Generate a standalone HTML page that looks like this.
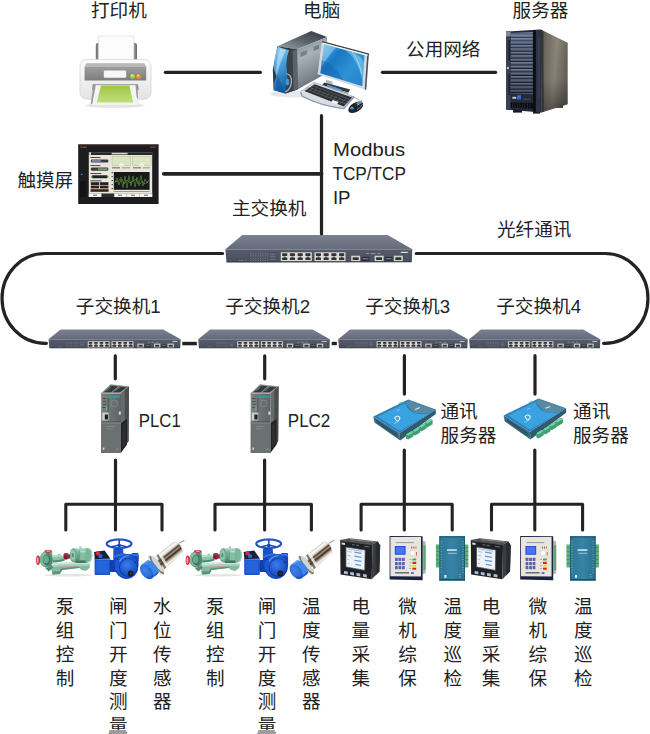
<!DOCTYPE html>
<html><head><meta charset="utf-8"><title>network</title>
<style>
html,body{margin:0;padding:0;background:#fff;font-family:"Liberation Sans",sans-serif;}
svg{display:block}
</style></head><body>
<svg width="650" height="734" viewBox="0 0 650 734">
<defs>
<linearGradient id="gPrBody" x1="0" y1="0" x2="0" y2="1"><stop offset="0" stop-color="#fdfdfd"/><stop offset="1" stop-color="#e3e3e3"/></linearGradient>
<linearGradient id="gPrPanel" x1="0" y1="0" x2="0" y2="1"><stop offset="0" stop-color="#a6a6a6"/><stop offset="1" stop-color="#7c7c7c"/></linearGradient>
<linearGradient id="gPrSup" x1="0" y1="0" x2="1" y2="0"><stop offset="0" stop-color="#6a6a6a"/><stop offset=".12" stop-color="#b8b8b8"/><stop offset=".88" stop-color="#b8b8b8"/><stop offset="1" stop-color="#6a6a6a"/></linearGradient>
<linearGradient id="gPrGreen" x1="0" y1="0" x2="0" y2="1"><stop offset="0" stop-color="#9cc544"/><stop offset="1" stop-color="#c2de7a"/></linearGradient>
<linearGradient id="gBlue" x1="0" y1="0" x2=".25" y2="1"><stop offset="0" stop-color="#9ad4f2"/><stop offset=".45" stop-color="#4aa2dc"/><stop offset="1" stop-color="#1462a8"/></linearGradient>
<linearGradient id="gScreen" x1="0" y1="0" x2="1" y2=".8"><stop offset="0" stop-color="#6fbde8"/><stop offset=".35" stop-color="#1878c2"/><stop offset=".7" stop-color="#2f92d4"/><stop offset="1" stop-color="#2486cc"/></linearGradient>
<linearGradient id="gTowerSide" x1="0" y1="0" x2=".3" y2="1"><stop offset="0" stop-color="#788088"/><stop offset=".4" stop-color="#a9b1b9"/><stop offset="1" stop-color="#687078"/></linearGradient>
<linearGradient id="gTowerTop" x1="0" y1="1" x2="1" y2="0"><stop offset="0" stop-color="#9aa2aa"/><stop offset=".5" stop-color="#5a626a"/><stop offset="1" stop-color="#30363e"/></linearGradient>
<linearGradient id="gSrvSide" x1="0" y1="0" x2="1" y2=".25"><stop offset="0" stop-color="#4c4842"/><stop offset=".2" stop-color="#6e685f"/><stop offset=".6" stop-color="#8d867b"/><stop offset="1" stop-color="#6a645b"/></linearGradient><linearGradient id="gSrvSideV" x1="0" y1="0" x2="0" y2="1"><stop offset="0" stop-color="#000" stop-opacity="0"/><stop offset=".6" stop-color="#000" stop-opacity=".05"/><stop offset="1" stop-color="#000" stop-opacity=".4"/></linearGradient><linearGradient id="gSrvStr" x1="0" y1="0" x2="0" y2="1"><stop offset="0" stop-color="#9db0d8" stop-opacity=".35"/><stop offset=".5" stop-color="#000" stop-opacity="0"/><stop offset="1" stop-color="#000" stop-opacity=".35"/></linearGradient>
<linearGradient id="gSrvFront" x1="0" y1="0" x2="0" y2="1"><stop offset="0" stop-color="#4e586c"/><stop offset="1" stop-color="#2a3040"/></linearGradient>
<pattern id="pSrv" width="4" height="3.45" patternUnits="userSpaceOnUse"><rect width="4" height="3.45" fill="#5e6b84"/><rect y="0" width="4" height=".8" fill="#7886a2"/><rect y="2.300" width="4" height="1.150" fill="#171c28"/></pattern>
<linearGradient id="gSwTop" x1="0" y1="0" x2="0" y2="1"><stop offset="0" stop-color="#7b8191"/><stop offset="1" stop-color="#646a7a"/></linearGradient>
<linearGradient id="gSwFront" x1="0" y1="0" x2="0" y2="1"><stop offset="0" stop-color="#555b6a"/><stop offset=".85" stop-color="#4a505e"/><stop offset="1" stop-color="#2e323c"/></linearGradient>
<linearGradient id="gPlcFront" x1="0" y1="0" x2="1" y2="0"><stop offset="0" stop-color="#7b8080"/><stop offset="1" stop-color="#5e6363"/></linearGradient>
<linearGradient id="gPlcSide" x1="0" y1="0" x2="0" y2="1"><stop offset="0" stop-color="#6a6e6e"/><stop offset=".45" stop-color="#3a3c3c"/><stop offset="1" stop-color="#1c1c1c"/></linearGradient>
<linearGradient id="gCsTop" x1="0" y1="0" x2="1" y2="1"><stop offset="0" stop-color="#3fa2de"/><stop offset="1" stop-color="#2f86c4"/></linearGradient>
<linearGradient id="gMetal" gradientUnits="userSpaceOnUse" x1="164" y1="549.5" x2="173.5" y2="561.5"><stop offset="0" stop-color="#b4aca0"/><stop offset=".1" stop-color="#ffffff"/><stop offset=".27" stop-color="#e4dcd0"/><stop offset=".4" stop-color="#4a3c2e"/><stop offset=".5" stop-color="#a49480"/><stop offset=".62" stop-color="#382c20"/><stop offset=".75" stop-color="#b4a894"/><stop offset=".9" stop-color="#f8f6f2"/><stop offset="1" stop-color="#c4bcb0"/></linearGradient>
<radialGradient id="gCap" cx=".45" cy=".35" r=".75"><stop offset="0" stop-color="#3f84ea"/><stop offset="1" stop-color="#1f5ccc"/></radialGradient>
<radialGradient id="gValve" cx=".4" cy=".35" r=".8"><stop offset="0" stop-color="#3a7cf0"/><stop offset="1" stop-color="#0f3fae"/></radialGradient>
<linearGradient id="gMotor" x1="0" y1="0" x2="0" y2="1"><stop offset="0" stop-color="#b4dcc8"/><stop offset=".3" stop-color="#7ab49c"/><stop offset=".7" stop-color="#5e9a82"/><stop offset="1" stop-color="#3f7862"/></linearGradient>
<linearGradient id="gBox" x1="0" y1="0" x2="1" y2="0"><stop offset="0" stop-color="#2d7696"/><stop offset=".5" stop-color="#3784a6"/><stop offset="1" stop-color="#2a6f8e"/></linearGradient>

<!-- switch : 186 x 28.5 -->
<g id="sw"><polygon points="16.9,0 162.3,0 186.9,14.3 0,14.3" fill="url(#gSwTop)"/><polygon points="0,14.3 186.9,14.3 186.4,27.4 1.1,27.7" fill="url(#gSwFront)"/><rect x="0" y="14" width="186.9" height=".9" fill="#8a90a0" opacity=".6"/><g fill="#8f96a6" opacity=".7"><rect x="25.0" y="18.6" width="1" height=".9"/><rect x="27.4" y="18.6" width="1" height=".9"/><rect x="29.8" y="18.6" width="1" height=".9"/><rect x="32.2" y="18.6" width="1" height=".9"/><rect x="34.6" y="18.6" width="1" height=".9"/><rect x="37.0" y="18.6" width="1" height=".9"/><rect x="39.4" y="18.6" width="1" height=".9"/><rect x="41.8" y="18.6" width="1" height=".9"/><rect x="25.0" y="20.6" width="1" height=".9"/><rect x="27.4" y="20.6" width="1" height=".9"/><rect x="29.8" y="20.6" width="1" height=".9"/><rect x="32.2" y="20.6" width="1" height=".9"/><rect x="34.6" y="20.6" width="1" height=".9"/><rect x="37.0" y="20.6" width="1" height=".9"/><rect x="39.4" y="20.6" width="1" height=".9"/><rect x="41.8" y="20.6" width="1" height=".9"/><rect x="25.0" y="23.2" width="1" height=".9"/><rect x="27.4" y="23.2" width="1" height=".9"/><rect x="29.8" y="23.2" width="1" height=".9"/><rect x="32.2" y="23.2" width="1" height=".9"/><rect x="34.6" y="23.2" width="1" height=".9"/><rect x="37.0" y="23.2" width="1" height=".9"/><rect x="39.4" y="23.2" width="1" height=".9"/><rect x="41.8" y="23.2" width="1" height=".9"/><rect x="25.0" y="25.2" width="1" height=".9"/><rect x="27.4" y="25.2" width="1" height=".9"/><rect x="29.8" y="25.2" width="1" height=".9"/><rect x="32.2" y="25.2" width="1" height=".9"/><rect x="34.6" y="25.2" width="1" height=".9"/><rect x="37.0" y="25.2" width="1" height=".9"/><rect x="39.4" y="25.2" width="1" height=".9"/><rect x="41.8" y="25.2" width="1" height=".9"/><rect x="13" y="25" width="5" height=".8"/><rect x="19.500" y="25" width="1.500" height=".8"/><rect x="45" y="19.500" width="5" height=".7"/><rect x="45" y="21.500" width="5" height=".7"/><rect x="45" y="24" width="5" height=".7"/></g><rect x="55.4" y="17.4" width="31" height="8.8" fill="#dedbd2"/><g fill="#30333b"><rect x="56.70" y="18.40" width="5.2" height="2.6" rx=".6"/><rect x="58.30" y="20.80" width="2" height=".7"/><rect x="64.45" y="18.40" width="5.2" height="2.6" rx=".6"/><rect x="66.05" y="20.80" width="2" height=".7"/><rect x="72.20" y="18.40" width="5.2" height="2.6" rx=".6"/><rect x="73.80" y="20.80" width="2" height=".7"/><rect x="79.95" y="18.40" width="5.2" height="2.6" rx=".6"/><rect x="81.55" y="20.80" width="2" height=".7"/><rect x="56.70" y="22.60" width="5.2" height="2.6" rx=".6"/><rect x="58.30" y="22.10" width="2" height=".7"/><rect x="64.45" y="22.60" width="5.2" height="2.6" rx=".6"/><rect x="66.05" y="22.10" width="2" height=".7"/><rect x="72.20" y="22.60" width="5.2" height="2.6" rx=".6"/><rect x="73.80" y="22.10" width="2" height=".7"/><rect x="79.95" y="22.60" width="5.2" height="2.6" rx=".6"/><rect x="81.55" y="22.10" width="2" height=".7"/></g><rect x="89.1" y="17.4" width="31" height="8.8" fill="#dedbd2"/><g fill="#30333b"><rect x="90.40" y="18.40" width="5.2" height="2.6" rx=".6"/><rect x="92.00" y="20.80" width="2" height=".7"/><rect x="98.15" y="18.40" width="5.2" height="2.6" rx=".6"/><rect x="99.75" y="20.80" width="2" height=".7"/><rect x="105.90" y="18.40" width="5.2" height="2.6" rx=".6"/><rect x="107.50" y="20.80" width="2" height=".7"/><rect x="113.65" y="18.40" width="5.2" height="2.6" rx=".6"/><rect x="115.25" y="20.80" width="2" height=".7"/><rect x="90.40" y="22.60" width="5.2" height="2.6" rx=".6"/><rect x="92.00" y="22.10" width="2" height=".7"/><rect x="98.15" y="22.60" width="5.2" height="2.6" rx=".6"/><rect x="99.75" y="22.10" width="2" height=".7"/><rect x="105.90" y="22.60" width="5.2" height="2.6" rx=".6"/><rect x="107.50" y="22.10" width="2" height=".7"/><rect x="113.65" y="22.60" width="5.2" height="2.6" rx=".6"/><rect x="115.25" y="22.10" width="2" height=".7"/></g><rect x="125.8" y="20.8" width="9" height="5.4" fill="#d6d3ca"/><rect x="127.3" y="22.4" width="6" height="2.8" rx=".5" fill="#30333b"/><rect x="149.2" y="20.8" width="9" height="5.4" fill="#d6d3ca"/><rect x="150.7" y="22.4" width="6" height="2.8" rx=".5" fill="#30333b"/><rect x="168.4" y="20.8" width="9" height="5.4" fill="#d6d3ca"/><rect x="169.9" y="22.4" width="6" height="2.8" rx=".5" fill="#30333b"/><rect x="136.2" y="22" width="7.8" height="3.9" fill="#2b2e36"/><rect x="137.2" y="23.2" width="5.8" height="1.2" fill="#7e828c"/><rect x="159.3" y="22" width="7.8" height="3.9" fill="#2b2e36"/><rect x="160.3" y="23.2" width="5.8" height="1.2" fill="#7e828c"/><g fill="#c8ccd6" opacity=".75"><rect x="140.500" y="18.300" width="3" height=".7"/><rect x="145" y="18.300" width="5" height=".7"/><rect x="152" y="18.300" width="3" height=".7"/></g><rect x="175.400" y="16.900" width="7" height="1.200" fill="#f2f2f4" opacity=".9"/></g>

<!-- PLC : origin = top-left of bounding box; front top-left at (0,9) -->
<g id="plc">
<polygon points="0,9 9.300,0.300 27.800,2.200 19.800,9" fill="#8f9494"/>
<polygon points="2.600,8.200 9.600,1.600 16.800,2.300 10.200,8.200" fill="#34383a"/><polygon points="11.600,8.200 18,2.500 25.600,3.200 18.800,8.200" fill="#34383a"/>
<polygon points="4.200,7 9.200,2.400 10.800,2.500 5.800,7" fill="#6a6e70"/><polygon points="13.200,7 18,2.900 19.600,3 14.800,7" fill="#6a6e70"/>
<polygon points="19.800,9 27.800,2.200 27.400,57 19.800,68.500" fill="#666a6a"/>
<polygon points="23.600,6 27.800,2.200 27.400,57 23.600,62.600" fill="#4a4d4e"/>
<polygon points="19.800,39.200 25.700,35 25.700,60.800 19.800,68.500" fill="#1e1f20"/><polygon points="21,41 24.600,38.400 24.600,60.400 21,65" fill="#2c2e2f"/>
<rect x="0" y="9" width="19.800" height="60" fill="url(#gPlcFront)"/>
<rect x="0" y="9" width="19.800" height="1" fill="#a4a8a8"/>
<rect x="0" y="9" width=".8" height="60" fill="#8a8e8e"/>
<rect x="7" y="11.600" width="11.600" height="2" fill="#2fa0a0"/>
<rect x="6.600" y="14" width="0.900" height="24" fill="#4e5252"/>
<circle cx="13" cy="19.500" r="3.400" fill="none" stroke="#8e9494" stroke-width=".7"/>
<g fill="#4c5050"><rect x="1.600" y="14" width="3.200" height="1"/><rect x="1.600" y="17" width="3.200" height="1"/><rect x="1.600" y="20" width="3.200" height="1"/><rect x="1.600" y="23" width="3.200" height="1"/></g>
<rect x="4.600" y="22" width="1.100" height="4.500" fill="#4fc0a8"/>
<rect x="1" y="28.500" width="6.500" height="8" fill="#c8cccc"/>
<rect x="3.600" y="30.500" width="3.200" height="5" fill="#222"/>
<rect x="17.600" y="27.500" width="2" height="3.200" fill="#d8dada"/>
<rect x="0" y="37.600" width="19.800" height="1" fill="#43474a"/>
<rect x="0" y="38.600" width="19.800" height="30.400" fill="#6b7070"/>
<rect x="0" y="38.600" width="19.800" height=".8" fill="#8d9292"/>
<rect x="5" y="42" width="9" height=".7" fill="#8a8e8e"/><rect x="5" y="44.600" width="7" height=".7" fill="#8a8e8e"/>
<rect x="1.600" y="63.500" width="1.600" height="2.400" fill="#d0d4d4"/>
<rect x="15" y="64.500" width="3" height="1.600" fill="#808484"/>
</g>

<!-- Comm server: origin (373.4,399) => local (0,0) -->
<g id="cs"><polygon points="0.0,17.0 26.3,33.3 26.9,41.0 1.1,23.0" fill="#3d6c84"/><polygon points="2.7,20.0 23.7,33.8 24.1,37.8 3.1,23.0" fill="#2d5468"/><polygon points="26.3,33.3 62.5,9.9 62.5,14.4 26.9,41.0" fill="#2f5a70"/><polygon points="0.0,17.0 35.0,0.0 62.5,9.9 26.3,33.3" fill="#2c80b8"/><polygon points="35.0,1.0 60.9,10.1 54.7,14.2 40.7,13.0 32.3,3.4" fill="#5a8aa2"/><path d="M4.3 17.0L31.5 3.6Q35.3 12.0 41.7 13.8L55.3 14.6L26.5 31.4z" fill="#3ba2e2"/><polygon points="32.7,34.8 38.3,31.4 40.1,32.8 40.1,36.8 34.9,40.0 32.7,38.8" fill="#3f9f74"/><polygon points="32.7,34.8 38.3,31.4 40.1,32.8 34.9,36.2" fill="#6fd0a2"/><polygon points="39.5,30.8 45.1,27.4 46.9,28.8 46.9,32.8 41.7,36.0 39.5,34.8" fill="#3f9f74"/><polygon points="39.5,30.8 45.1,27.4 46.9,28.8 41.7,32.2" fill="#6fd0a2"/><polygon points="45.9,26.7 51.5,23.3 53.3,24.7 53.3,28.7 48.1,31.9 45.9,30.7" fill="#3f9f74"/><polygon points="45.9,26.7 51.5,23.3 53.3,24.7 48.1,28.1" fill="#6fd0a2"/><polygon points="51.9,22.7 57.5,19.3 59.3,20.7 59.3,24.7 54.1,27.9 51.9,26.7" fill="#3f9f74"/><polygon points="51.9,22.7 57.5,19.3 59.3,20.7 54.1,24.1" fill="#6fd0a2"/><path d="M21.3 18.0l2.8-1.500 2.400 1-.2 2.600-2.600 1.600z" fill="none" stroke="#fff" stroke-width="1"/><rect x="20.7" y="22.4" width="5" height=".7" fill="#bfe2f8" transform="rotate(-26 23.2 22.7)"/><rect x="41.7" y="8.4" width="5" height="1.1" fill="#d6e8f2" transform="rotate(-22 44.2 8.9)"/><rect x="25.1" y="3.0" width="3.6" height="1.2" fill="#5cc09a" transform="rotate(-26 26.9 3.6)"/><rect x="23.7" y="10.2" width="2.4" height=".6" fill="#d6eefc" transform="rotate(-26 24.7 10.4)"/></g>

<!-- Pump: abs coords of first instance -->
<g id="pump">
<ellipse cx="68" cy="575.200" rx="24" ry="1.300" fill="#e2e6e4"/>
<!-- base -->
<path d="M51.700 562.900l37.100-.5 1.300 2.200-.5 3.400-3.900 2.900-4.400-.9-2-2-17.700 2-2 3.900-7.400.5-1-6.400z" fill="#86b8a2"/>
<path d="M53.200 562.700l35.400-.6 1.500 2-38.400 1z" fill="#cbe8da"/>
<path d="M51.700 565.100l38.400-1 -.2 1.600-38.200 1.200z" fill="#a9d2be"/>
<path d="M56.600 567.300l18.700-.9" stroke="#d88a8a" stroke-width=".8" fill="none"/>
<path d="M52.300 571.600l7-.4 1.600-2.800 17.700-2 1.400 1.400-17.900 2.300-2 3.900-7.400.5z" fill="#5f927c"/>
<!-- bearing bracket / shaft -->
<path d="M52.500 555.600q6-1.400 12 -.4v5.600q-6 1.600-12 1.600z" fill="#8cc4aa"/>
<path d="M52.500 555.600q6-1.400 12 -.4v1.600q-6-.8-12 .6z" fill="#bce2d0"/>
<path d="M52.500 560.400q6 0 12-1.600v2q-6 1.600-12 1.600z" fill="#4f8a72"/>
<rect x="58" y="553.800" width="2.400" height="1.600" fill="#8cc4aa"/>
<!-- coupling -->
<rect x="63.600" y="553" width="5" height="6.400" rx="1.600" fill="#7d1e32"/>
<rect x="66.600" y="554.200" width="5" height="4.200" rx="1.200" fill="#98283e"/>
<rect x="64.200" y="553.400" width="3.600" height="1.300" rx=".6" fill="#b85064"/>
<!-- motor -->
<rect x="75.400" y="560.600" width="11" height="2.400" fill="#3f7460"/>
<path d="M73.400 548.200h14.600q4.200 0 4.200 7t-4.200 7h-14.600z" fill="url(#gMotor)"/>
<ellipse cx="73.400" cy="555.200" rx="3.500" ry="7" fill="#6ea88e"/>
<ellipse cx="73" cy="555" rx="2.300" ry="5" fill="#93c9b0"/>
<ellipse cx="72.800" cy="555.200" rx="1.100" ry="2.200" fill="#5a9078"/>
<rect x="79.300" y="550.800" width="6.400" height="9.400" fill="#86bea4"/>
<rect x="79.300" y="550.800" width="6.400" height="1.600" fill="#b6dfcc"/>
<rect x="79.300" y="550.800" width=".8" height="9.400" fill="#5e9a80"/>
<path d="M85.700 548.200h2.300q4.200 0 4.200 7t-4.200 7h-2.300z" fill="#7ab69c"/>
<path d="M88.200 548.400q3.600.6 3.600 6.800t-3.600 6.800" stroke="#bfe4d2" stroke-width=".8" fill="none"/>
<rect x="79.200" y="546.400" width="2.200" height="1.800" fill="#9ccab4"/>
<!-- volute -->
<rect x="44.200" y="551.800" width="8.200" height="5" fill="#82bca2"/>
<ellipse cx="46.200" cy="559.400" rx="6.400" ry="7.900" fill="#5a9880"/>
<ellipse cx="45.400" cy="559" rx="5.400" ry="6.900" fill="#84c0a6"/>
<ellipse cx="46.600" cy="559.800" rx="4" ry="5.400" fill="#2f6652"/>
<ellipse cx="46" cy="559.400" rx="3" ry="4.200" fill="#6aa68c"/>
<path d="M47 552.400q5.600 1 5.600 7.200 0 5-3.600 7.600l-2-1.600q2.800-2 2.800-6 0-4.400-4-5.600z" fill="#4f8a72"/>
<rect x="39.200" y="556.600" width="3.200" height="6.600" fill="#7ab49a"/>
<ellipse cx="48.200" cy="551.400" rx="3.800" ry="1.400" fill="#cf2e38"/>
<ellipse cx="48.200" cy="551.300" rx="2.200" ry=".7" fill="#f0a0a4"/>
<ellipse cx="38" cy="560.200" rx="2" ry="4.800" fill="#cf2e38"/>
<ellipse cx="37.700" cy="560.200" rx="1" ry="3.200" fill="#f0a0a4"/>
<path d="M44.600 567.400q4 .8 7-2.400l1.600 2.800-4.400 3.600z" fill="#558c76"/>
</g>

<!-- Valve actuator: abs coords of first instance -->
<g id="valve">
<rect x="117.800" y="544" width="2.800" height="7" fill="#1646b8"/>
<path d="M113.300 557.500v-7q0-2.500 2.500-2.500h5q2.500 0 2.500 2.500v7z" fill="#1a50c8"/>
<rect x="131.500" y="553" width="6.900" height="8.600" rx="1.200" fill="#1244b4"/>
<rect x="133" y="554.600" width="5.400" height="5.400" rx="1" fill="#2a64dc"/>
<path d="M110 560h6v12h-6z" fill="#143fae"/><path d="M113.300 556.500q8-4.500 13-2.500h10q2.200 0 2.200 2.200v9.800h-25.200z" fill="#1746bc"/><path d="M113.300 556.500q8-4.500 13-2.500h10q2.200 0 2.200 2.200v.8q-2-1.600-4-1.200h-8q-5-1.600-13.200 2.700z" fill="#3b74e6"/>
<ellipse cx="126.500" cy="566.400" rx="11.800" ry="12.500" fill="#154abc"/>
<ellipse cx="126" cy="565.600" rx="11" ry="11.400" fill="#1d58d4"/>
<circle cx="128.400" cy="567.600" r="9.400" fill="#0f3a9e"/>
<circle cx="128.600" cy="567.400" r="8.600" fill="url(#gValve)"/>
<path d="M119.400 561.600q3-5.600 9.600-6.200" stroke="#5c94fa" stroke-width="1.300" fill="none"/>
<circle cx="130.700" cy="573.500" r="2.900" fill="#141c2c"/><circle cx="130.700" cy="573.500" r="1.300" fill="#2e4438"/>
<circle cx="117.400" cy="559.400" r=".7" fill="#0b2a78"/><circle cx="135.200" cy="562.400" r=".7" fill="#0b2a78"/><circle cx="116.200" cy="571.600" r=".7" fill="#0b2a78"/>
<rect x="94.600" y="558.600" width="15.600" height="16.400" rx="1" fill="#1c54cc"/>
<rect x="96.200" y="560.400" width="12.600" height="12.800" rx="1" fill="#2563dc"/>
<rect x="94.600" y="558.600" width="15.600" height="1.300" fill="#4f8af2"/>
<polygon points="94.100,552 104.600,550.500 110.300,558.600 94.800,559.200" fill="#17213a"/>
<circle cx="97.900" cy="553.300" r="2.200" fill="#d82c34"/><circle cx="100.400" cy="556.100" r="2.200" fill="#2a66dc"/>
<rect x="109.800" y="562" width="2.600" height="9" fill="#123ea8"/>
<ellipse cx="119.100" cy="543.800" rx="12.400" ry="4.300" fill="none" stroke="#1646bc" stroke-width="2"/>
<ellipse cx="119.100" cy="543.300" rx="12.400" ry="4.300" fill="none" stroke="#3a72e6" stroke-width=".6"/>
<path d="M119.200 540v7M112 546.800l7.200-1.800 7.200 1.800" stroke="#1646bc" stroke-width="1.500" fill="none"/>
</g>

<!-- Sensor: abs coords -->
<g id="sensor">
<path d="M179.400 543.200l5-3" stroke="#a4a4a4" stroke-width="1.300"/>
<ellipse cx="156.2" cy="565.4" rx="3.600" ry="12.200" transform="rotate(-38.200 156.2 565.4)" fill="#e2e2e0"/>
<ellipse cx="156.7" cy="565.0" rx="2.600" ry="11.400" transform="rotate(-38.200 156.7 565.0)" fill="#7e786c"/>
<ellipse cx="157.89999999999998" cy="564.1" rx="2.800" ry="10.200" transform="rotate(-38.200 157.89999999999998 564.1)" fill="#d6d4d0"/>
<path d="M155.500 556.400L173.400 542.300Q178 541.600 180.600 545.400T182.100 553.500L163.400 569.700z" fill="url(#gMetal)"/>
<path d="M173.400 542.300Q178 541.600 180.600 545.400T182.100 553.500" fill="none" stroke="#dcd6cc" stroke-width=".8"/>
<path d="M158.200 554.300l2.200-1.700 8 13.200-2.200 1.900z" fill="#f4f2ee" opacity=".8"/>
<path d="M156.600 555.500l1.600-1.200 8 13.300-1.700 1.400z" fill="#4a4034" opacity=".7"/>
<g transform="translate(-1.700 1.200)"><polygon points="143.0,563.8 148.3,559.6 158.9,573.2 153.6,577.4" fill="#3f86ea"/>
<ellipse cx="153.6" cy="566.4" rx="4.400" ry="8.600" transform="rotate(-38.200 153.6 566.4)" fill="#3f86ea"/>
<path d="M149.8,559.2 L144.0,563.5" stroke="#79b2f8" stroke-width="1.200" opacity=".8"/>
<ellipse cx="148.3" cy="570.6" rx="5.200" ry="8.600" transform="rotate(-38.200 148.3 570.6)" fill="url(#gCap)"/>
<path d="M148.1,577.1 Q152.3,578.9 160.4,571.8 L160.4,569.2 Q153.3,576.9 148.4,575.6z" fill="#184cb4" opacity=".7"/>
</g></g>

<!-- Power meter: abs coords -->
<g id="meter">
<polygon points="372.500,544.200 377.800,541.500 380.200,545.400 379.400,571.500 371.700,579.200" fill="#3b3d42"/>
<polygon points="375.600,543 377.800,541.500 380.200,545.400 379.400,571.500 375.600,575.400" fill="#2a2c30"/>
<polygon points="340.200,540 349.400,538.300 377.800,541.500 372.500,544.200" fill="#4a4c50"/>
<polygon points="351,538.900 374.600,541.500 373,542.600 349.400,539.900" fill="#8d8468"/>
<polygon points="340.200,540 372.500,544.200 371.700,579.200 340.500,574.600" fill="#1f2125"/>
<polygon points="340.200,540 372.500,544.200 372.500,545.200 340.200,541" fill="#50535a"/>
<polygon points="345.900,546.900 365.200,550 364.800,570.400 345.900,566.900" fill="#edf3f9"/>
<polygon points="345.900,546.900 365.200,550 364.800,570.400 345.900,566.900" fill="none" stroke="#3a404c" stroke-width=".7"/>
<g stroke="#6f95cf" stroke-width="1.300" fill="none"><path d="M354.400 552.200l7 1.100M354.400 556.200l7 1.100M354.400 560.300l7 1.100M355.200 564.400l5.800 1"/></g>
<g stroke="#a9b6c8" stroke-width=".9" fill="none"><path d="M347.600 551.500l4 .6M347.600 555.400l3 .5M347.600 559.400l1.500 .3M347.600 563.400l2 .3M347.400 548.900l15 2.400"/></g>
<g fill="#a9c0e2"><polygon points="344,570.900 347.800,571.500 347.800,574.300 344,573.700"/><polygon points="350.200,572 354,572.600 354,575.400 350.200,574.800"/><polygon points="356.400,573 360.200,573.600 360.200,576.400 356.400,575.800"/><polygon points="363,574 366.800,574.600 366.800,577.400 363,576.800"/></g>
<polygon points="341.600,542.600 345,543.100 345,545.100 341.600,544.600" fill="#d3d6dc"/>
<path d="M352 544.600l2.600.4M356 545.200l3 .4M364.400 546.300l5 .7" stroke="#8e939c" stroke-width=".7"/>
</g>

<!-- Protection relay: abs coords -->
<g id="relay">
<polygon points="422.100,540.400 425.600,541.600 425.600,573.200 422.100,574.400" fill="#b4b4ac"/>
<rect x="423.400" y="545.200" width="2.200" height="25" fill="#58a870"/>
<polygon points="389.600,536 422.600,536.200 422.600,580.200 389.600,579.400" fill="#1b2140"/>
<polygon points="390.400,536.900 421,537 421,576.600 390.400,576.200" fill="#e8e6dc"/>
<rect x="394.800" y="546" width="10.800" height="8.800" fill="#2a4fe0"/>
<rect x="395.900" y="547.100" width="8.600" height="6.600" fill="#4a74f2"/>
<rect x="395.800" y="542.300" width="18" height=".8" fill="#80828e"/>
<g fill="#5866a6"><rect x="395.0" y="557.8" width="2.800" height="3.3" rx=".4"/><rect x="398.5" y="557.8" width="2.800" height="3.3" rx=".4"/><rect x="402.0" y="557.8" width="2.800" height="3.3" rx=".4"/><rect x="395.0" y="561.9" width="2.800" height="3.3" rx=".4"/><rect x="398.5" y="561.9" width="2.800" height="3.3" rx=".4"/><rect x="402.0" y="561.9" width="2.800" height="3.3" rx=".4"/><rect x="395.0" y="566.0" width="2.800" height="3.3" rx=".4"/><rect x="398.5" y="566.0" width="2.800" height="3.3" rx=".4"/><rect x="402.0" y="566.0" width="2.800" height="3.3" rx=".4"/></g>
<rect x="410.300" y="550.800" width="4.200" height="4.300" fill="#fdfdfd" stroke="#cfcfc6" stroke-width=".4"/>
<rect x="411.300" y="546.600" width=".9" height="2" fill="#c83030"/><rect x="413.400" y="546.600" width=".9" height="2" fill="#c83030"/><rect x="415.500" y="546.400" width=".9" height="2.200" fill="#3aa050"/>
<rect x="416.200" y="552" width=".8" height="3.600" fill="#d05050"/>
<rect x="412.400" y="558.600" width="3.800" height="1.800" fill="#2fae50"/>
<rect x="412.400" y="561.800" width="3.800" height="2.200" fill="#e02424"/>
<rect x="412.400" y="564.900" width="3.800" height="2" fill="#f2e020"/>
<rect x="412.400" y="567.700" width="3.800" height="2" fill="#e02424"/>
<g fill="#8a8c96"><rect x="409.400" y="559.200" width="2" height=".6"/><rect x="409.400" y="562.600" width="2" height=".6"/><rect x="409.400" y="565.600" width="2" height=".6"/><rect x="409.400" y="568.400" width="2" height=".6"/></g>
<rect x="395" y="572.300" width="14" height="1.100" fill="#3a3c58"/><rect x="411" y="572.200" width="2.800" height="1.700" fill="#3a68d0"/>
</g>

<!-- Blue module: abs coords -->
<g id="bmod">
<rect x="435.900" y="544.500" width="3.800" height="23" fill="#5cb070"/>
<rect x="464.800" y="544.500" width="3.500" height="23" fill="#5cb070"/>
<g fill="#3d8f55"><rect x="435.900" y="547" width="3.800" height=".7"/><rect x="435.900" y="551" width="3.800" height=".7"/><rect x="435.900" y="555" width="3.800" height=".7"/><rect x="435.900" y="559" width="3.800" height=".7"/><rect x="435.900" y="563" width="3.800" height=".7"/><rect x="464.800" y="547" width="3.500" height=".7"/><rect x="464.800" y="551" width="3.500" height=".7"/><rect x="464.800" y="555" width="3.500" height=".7"/><rect x="464.800" y="559" width="3.500" height=".7"/><rect x="464.800" y="563" width="3.500" height=".7"/></g>
<rect x="439.400" y="536.200" width="25.600" height="44.400" rx=".8" fill="url(#gBox)"/>
<rect x="439.400" y="536.200" width="25.600" height="1.300" fill="#1f5a74"/>
<rect x="439.400" y="579" width="25.600" height="1.600" fill="#1c4e66"/>
<rect x="439.400" y="536.200" width=".9" height="44.400" fill="#205c78"/><rect x="464.100" y="536.200" width=".9" height="44.400" fill="#1f5670"/>
<g fill="#7fb4c8" opacity=".7"><rect x="440.600" y="541.0" width="1.600" height=".8"/><rect x="440.600" y="543.6" width="1.600" height=".8"/><rect x="440.600" y="546.2" width="1.600" height=".8"/><rect x="440.600" y="548.8" width="1.600" height=".8"/><rect x="440.600" y="551.4" width="1.600" height=".8"/><rect x="440.600" y="554.0" width="1.600" height=".8"/><rect x="440.600" y="556.6" width="1.600" height=".8"/><rect x="440.600" y="559.2" width="1.600" height=".8"/><rect x="440.600" y="561.8" width="1.600" height=".8"/><rect x="440.600" y="564.4" width="1.600" height=".8"/><rect x="440.600" y="567.0" width="1.600" height=".8"/><rect x="440.600" y="569.6" width="1.600" height=".8"/><rect x="440.600" y="572.2" width="1.600" height=".8"/><rect x="462" y="541.0" width="1.800" height=".8"/><rect x="462" y="543.6" width="1.800" height=".8"/><rect x="462" y="546.2" width="1.800" height=".8"/><rect x="462" y="548.8" width="1.800" height=".8"/><rect x="462" y="551.4" width="1.800" height=".8"/><rect x="462" y="554.0" width="1.800" height=".8"/><rect x="462" y="556.6" width="1.800" height=".8"/><rect x="462" y="559.2" width="1.800" height=".8"/><rect x="462" y="561.8" width="1.800" height=".8"/><rect x="462" y="564.4" width="1.800" height=".8"/><rect x="462" y="567.0" width="1.800" height=".8"/><rect x="462" y="569.6" width="1.800" height=".8"/><rect x="462" y="572.2" width="1.800" height=".8"/></g>
<rect x="447" y="549.300" width="9.800" height="1.500" fill="#dcecf4"/>
<rect x="447.800" y="552.800" width="9" height=".9" fill="#a4cadc"/>
<rect x="444.400" y="575" width="2" height="2.800" fill="#e4f0f4"/>
<rect x="459.600" y="574" width="1" height=".9" fill="#9ccadc"/><rect x="459.600" y="576.400" width="1" height=".9" fill="#9ccadc"/>
</g>

</defs>
<rect width="650" height="734" fill="#fff"/>

<g fill="none" stroke="#232323" stroke-width="3.2" stroke-linecap="round">
<path d="M165.4 72.3H260.4"/>
<path d="M382.4 72.3H495.6"/>
<path d="M321.5 115.5V235"/>
<path d="M163.8 173.85H321.5" stroke-width="3.8"/>
<path d="M222.600 253.500H45A43 44.900 0 0 0 45 343.300H46.400"/>
<path d="M416.200 253.500H605A43 44.900 0 0 1 605 343.300H603.600"/>
<path d="M182.300 343.550H196.800" stroke-width="3.500" stroke-linecap="butt"/>
<path d="M331.700 343.500H336.800" stroke-width="3.400" stroke-linecap="butt"/>
<path d="M115.300 355.800V378.800M115.500 460V504"/>
<path d="M264.700 355.800V378.800M264.600 460V504"/>
<path d="M404.400 355.700V394.100M404.300 450V504"/>
<path d="M535 355.700V394.100M534.800 450V504"/>
</g>
<g fill="none" stroke="#232323" stroke-width="3.1" stroke-linejoin="round" stroke-linecap="round">
<path d="M65.800 530V504.300H162V530M115.500 504V530"/>
<path d="M215 530V504.300H311.400V530M264.600 504V530"/>
<path d="M361.100 530V504.300H452.200V530M404.300 504V530"/>
<path d="M491.500 530V504.300H582.600V530M534.800 504V530"/>
</g>

<!-- printer -->
<g id="printer">
<ellipse cx="115" cy="105.500" rx="30" ry="2.600" fill="#e9e9e9"/>
<path d="M95.800 62V45.500q0-2.800 2.800-2.800h35.600q2.800 0 2.800 2.800V62z" fill="url(#gPrSup)"/>
<rect x="98.600" y="36" width="35.200" height="27" fill="#fcfcfc" stroke="#d9d9d9" stroke-width=".6"/>
<rect x="80" y="59.600" width="71" height="39.600" rx="6.500" fill="url(#gPrBody)" stroke="#d4d4d4" stroke-width=".8"/>
<path d="M86.600 63.600h57.600l2 3.400v13.600h-61.600V67z" fill="url(#gPrPanel)"/>
<path d="M86.600 63.600h57.600l2 3.400h-61.600z" fill="#b9b9b9"/>
<rect x="103.800" y="70.600" width="22.400" height="7.200" rx="1.200" fill="#f6f6f6"/>
<circle cx="132.600" cy="76.200" r="2.500" fill="#9ccc3c"/><circle cx="132.200" cy="75.600" r="1.100" fill="#d4f08c"/>
<circle cx="138.600" cy="76.200" r="2.500" fill="#f08a2c"/><circle cx="138.200" cy="75.600" r="1.100" fill="#fcd09c"/>
<polygon points="92.800,84.200 138,84.200 138.600,90 92.200,90" fill="#7d7d7d"/>
<polygon points="94.600,85 136.600,85 138.200,105.800 90.600,105.800" fill="#f4f4f4" stroke="#cfcfcf" stroke-width=".6"/>
<polygon points="93.400,85 95.800,85 92.200,104 90.800,104" fill="#9a9a9a"/>
<polygon points="135.400,85 137.400,85 138,98 136.800,98" fill="#9a9a9a"/>
<polygon points="101,85.400 129.400,85.400 133.200,102.400 96.800,102.400" fill="url(#gPrGreen)"/>
</g>

<!-- computer -->
<g id="pc">
<ellipse cx="300" cy="94" rx="30" ry="3.600" fill="#e4e7ec"/>
<polygon points="277.400,46.200 311.300,31 327.100,36.900 297,49.200" fill="url(#gTowerTop)"/>
<polygon points="297,49.200 327.100,36.900 327.100,73 297.500,89.500" fill="url(#gTowerSide)"/>
<polygon points="277.400,46.200 297,49.200 297.500,89.500 285.200,93.600 273.600,90.200 272.800,70" fill="#30343a"/>
<path d="M277.800 46.800l11.400 3.400q-3.600 9.800-2.200 20.400t-1.800 22.600l-11.300-3.200q-.9-5.600 1.200-10t-1-9.600q-.6-11.600 3.700-23.600z" fill="url(#gBlue)"/>
<path d="M280 48.500l6 1.800q-5 9-9.600 26 -1-13 3.600-27.800z" fill="#d6eefb" opacity=".55"/>
<path d="M276.600 74q5 8 7 18l-8-2.300q-.8-5 1.200-9.400z" fill="#0e4f94" opacity=".5"/>
<path d="M289.200 50.200l7.800-1 .5 40.300-12.300 4.100q3.200-12 1.800-22.600t2.200-20.800z" fill="#3b4048"/>
<path d="M292.500 50.500l4.500-1.300.5 40.300-4 1.300z" fill="#5b626b"/>
<path d="M286.400 73.500q5.600 1.400 5 8.600t-6 9.800" stroke="#aeb6c0" stroke-width="1.200" fill="none"/>
<ellipse cx="287.400" cy="82" rx="1.700" ry="3.600" fill="#3f96d8"/>
<g fill="#6a727c" opacity=".8"><path d="M300.400 52.800l6.400-2.800v4.200l-6.400 2.800zM313.600 47l5.600-2.400v4.200l-5.600 2.400z"/></g>
<!-- monitor -->
<polygon points="322,41 368.900,53.500 366.200,90.100 317.600,74.300" fill="#d4d9df"/>
<polygon points="322,41 368.900,53.500 368.700,55 321.800,42.600" fill="#3c424a"/>
<polygon points="367.300,54 368.900,53.500 366.200,90.100 364.800,89.300" fill="#454b53"/>
<polygon points="322.600,42.600 367.600,54.600 367.400,56 322.400,44" fill="#f4f6f8"/>
<polygon points="324.200,44.300 364.500,55.200 362.300,86.300 320.400,73.200" fill="url(#gScreen)"/>
<path d="M345 50q13.600 9.400 17.600 32.600l1.400-20q-3.400-6.600-10.200-10.600z" fill="#9ad6f6" opacity=".5"/>
<path d="M352 52q7 8 9.600 22" stroke="#c4e8fa" stroke-width="1" fill="none" opacity=".6"/>
<path d="M324.200 44.300l12 3.300q-8 8-14.800 20z" fill="#a8dcf6" opacity=".5"/>
<path d="M321.600 60q12 4 22 20l-23.200-6.800z" fill="#0f5ea8" opacity=".4"/>
<polygon points="326,79.600 332.400,81.600 332.800,85 326.400,83.400" fill="#b4bac2"/>
<polygon points="324.400,82.600 350.200,89.600 348.400,92.600 322,85.200" fill="#33383f"/>
<polygon points="322,85.200 348.400,92.600 348.400,94 322,86.600" fill="#8d939b"/>
<!-- keyboard -->
<path d="M300.600 91.600l13.600-9.400 40 14.600-10.400 11.800q-24-3-41.600-12.400z" fill="#d9dde3" stroke="#9ea5ae" stroke-width=".7"/><path d="M300.800 92.600l1.400 3.600q17.600 9.400 41.600 12.400l10.400-11.800" fill="none" stroke="#8c9ab8" stroke-width="1.300"/>
<polygon points="304.400,91 314.600,84.200 352.200,97.600 343.800,106.400" fill="#2c2f34"/>
<g stroke="#7d838b" stroke-width=".45" fill="none"><path d="M307 89.300l38.800 14.700M309.600 87.600l38.400 14.200M312.200 85.800l38.200 13.800"/><path d="M309 86.600l-3 2.200M313 88l-3.400 2.600M317 89.400l-3.600 2.800M321 90.800l-3.800 3M325 92.200l-4 3.200M329 93.600l-4 3.400M333 95l-4.200 3.600M337 96.400l-4.400 3.800M341 97.800l-4.600 4M345 99.200l-4.600 4.400M349 100.600l-4.600 4.600"/></g>
<polygon points="332.800,100 338.600,102 336.800,104.400 331,102.200" fill="#f0f2f5"/>
<path d="M327.200 85.400l14 4.900" stroke="#4a9cdc" stroke-width="1.700"/>
<!-- mouse -->
<path d="M351 96.400q7.600 2 10.400 6.400" stroke="#8f959d" stroke-width=".7" fill="none"/>
<ellipse cx="355.800" cy="107.300" rx="8.200" ry="4.600" transform="rotate(-30 355.800 107.300)" fill="#22262b"/>
<path d="M356.400 103.800l5.600-2.800" stroke="#5aa0e0" stroke-width="1.500"/><path d="M357 105.400l5.600-3.400" stroke="#9aa2ac" stroke-width="1"/>
<ellipse cx="352" cy="108.200" rx="1.700" ry="1.400" fill="#4a94dc"/>
<path d="M357 109.600q4-2 6-5.800" stroke="#8a9098" stroke-width=".8" fill="none"/>
</g>

<!-- server -->
<g id="server">
<rect x="513" y="110" width="9" height="2.600" fill="#17181c"/><rect x="533" y="111" width="7" height="2.600" fill="#17181c"/><rect x="556" y="105" width="7" height="2.800" fill="#25262a"/>
<polygon points="540.800,29.600 567.700,42.800 567.700,104.300 541.400,112.400" fill="url(#gSrvSide)"/>
<polygon points="540.800,29.600 567.700,42.800 567.700,104.300 541.400,112.400" fill="url(#gSrvSideV)"/>
<polygon points="540.800,29.600 543.400,30.900 543.800,111.600 541.400,112.400" fill="#2c2a28" opacity=".75"/>
<polygon points="506,31.500 540.800,29.600 541.400,112.400 506,109.600" fill="#222735"/>
<polygon points="510.700,33 532.900,32.100 532.900,102.400 510.700,101.600" fill="url(#pSrv)"/>
<polygon points="510.700,33 532.900,32.100 532.900,102.400 510.700,101.600" fill="url(#gSrvStr)"/>
<polygon points="506,31.500 510.700,31.300 510.700,109.800 506,109.600" fill="#3a4153"/>
<polygon points="506,31.500 510.700,31.300 510.700,36 506,36.400" fill="#8088a0"/>
<rect x="508.600" y="40" width="1.100" height="21" fill="#11141c"/><rect x="508.600" y="74" width="1.100" height="21" fill="#11141c"/>
<circle cx="507.800" cy="68" r="1.200" fill="#c0c4cc"/>
<rect x="532.900" y="30.200" width="3" height="81.400" fill="#0c0e14"/>
<rect x="535.900" y="29.900" width="5" height="82.300" fill="#2c3446"/>
<rect x="538.600" y="38" width=".8" height="60" fill="#444c60"/>
<polygon points="510.700,93.600 532.900,94.200 532.900,102.400 510.700,101.600" fill="#232938"/>
<rect x="517" y="95.200" width="4" height="4.200" fill="#2a70d0"/><rect x="512.400" y="96.800" width="3.800" height="2" fill="#c4c8d0"/><rect x="523" y="98.800" width="8" height=".7" fill="#5a6274"/>
<polygon points="510.700,102.400 532.900,103.200 532.900,108.400 510.700,107.400" fill="#090a0e"/>
<g fill="#2a2f3c"><rect x="512" y="103" width=".8" height="4.600"/><rect x="514.500" y="103" width=".8" height="4.700"/><rect x="517" y="103.200" width=".8" height="4.700"/><rect x="519.500" y="103.200" width=".8" height="4.800"/><rect x="522" y="103.400" width=".8" height="4.800"/><rect x="524.500" y="103.400" width=".8" height="4.800"/><rect x="527" y="103.600" width=".8" height="4.800"/><rect x="529.500" y="103.600" width=".8" height="4.800"/></g>
</g>

<!-- touchscreen -->
<g id="hmi">
<rect x="78.200" y="144.400" width="80.400" height="59.600" rx=".8" fill="#1d1d20"/>
<rect x="78.200" y="144.400" width="80.400" height="1" fill="#4a3030"/>
<rect x="80.600" y="146.400" width="1.400" height="1.400" fill="#c83030"/><rect x="82.600" y="146.800" width="4" height=".8" fill="#8a8a8a"/><rect x="150" y="146.800" width="6" height=".7" fill="#7a7a7a"/>
<rect x="80.800" y="173.800" width="1.800" height="1" fill="#3aa0f0"/>
<rect x="80" y="181" width="6" height="16" fill="#141416"/>
<rect x="88.800" y="152.200" width="63.400" height="44.800" fill="#eae6da"/>
<rect x="88.800" y="152.200" width="63.400" height="2.800" fill="#26282a"/><rect x="111.600" y="152.800" width="16" height="1.600" fill="#d8d8d0"/><rect x="89.200" y="152.400" width="1.800" height="2.400" fill="#e8e8e8"/>
<rect x="112" y="156.400" width="18.800" height="9.400" fill="#d9e6c0" stroke="#a8b098" stroke-width=".4"/>
<rect x="132.300" y="156.400" width="18.800" height="9.400" fill="#d9e6c0" stroke="#a8b098" stroke-width=".4"/>
<path d="M119 165.800a2.600 2.600 0 0 1 5.200 0zM139.200 165.800a2.600 2.600 0 0 1 5.200 0z" fill="#f4f4f0"/>
<rect x="112" y="167.400" width="8" height=".9" fill="#55585a"/><rect x="122" y="167.400" width="8" height=".9" fill="#8a8d8a"/><rect x="133" y="167.400" width="8" height=".9" fill="#55585a"/><rect x="143" y="167.400" width="7" height=".9" fill="#8a8d8a"/>
<rect x="113.800" y="172" width="35.800" height="17.800" fill="#17191a"/>
<polyline points="115,183 117,178 119,185 121,179 123,187.500 125,176 127,188 129,175.500 131,186 133,176 135,187 137,177 139,184 141,175.500 143,186 145,179 147,183 149,180" fill="none" stroke="#4f9a42" stroke-width=".65"/>
<polyline points="115,181 118,182 121,177 124,184 127,180 130,183 133,181 136,179 139,186 142,181 145,184 148,182" fill="none" stroke="#c8b030" stroke-width=".5" opacity=".8"/>
<g fill="#3a3c3c"><rect x="111.600" y="172" width="1.200" height="1.200"/><rect x="111.600" y="176" width="1.200" height="1.200"/><rect x="111.600" y="180" width="1.200" height="1.200"/><rect x="111.600" y="184" width="1.200" height="1.200"/><rect x="111.600" y="188" width="1.200" height="1.200"/></g>
<rect x="113.800" y="191" width="35.800" height=".7" fill="#777"/>
<rect x="90.400" y="157" width="10" height=".9" fill="#333"/>
<rect x="90.800" y="159.400" width="17.600" height="3.200" rx="1.400" fill="#3a3c40"/><rect x="91.800" y="160.200" width="9" height="1.500" fill="#8a92c8"/>
<rect x="90.400" y="165.200" width="10" height=".9" fill="#333"/>
<rect x="90.800" y="167.600" width="17.600" height="3.200" rx="1.400" fill="#3a3c40"/><rect x="98" y="168.400" width="9.400" height="1.500" fill="#7cb07c"/>
<rect x="90.400" y="173" width="11" height=".9" fill="#333"/>
<rect x="91.600" y="175.200" width="16" height="3" rx="1.200" fill="#202224"/><polygon points="90.600,176.700 92.600,175.200 92.600,178.200" fill="#4aa04a"/><polygon points="108.800,176.700 106.800,175.200 106.800,178.200" fill="#4aa04a"/>
<rect x="90.400" y="180.400" width="11" height=".9" fill="#333"/>
<rect x="90.800" y="182.200" width="8.400" height="2.800" fill="#2a2220"/><rect x="100" y="182.200" width="8.400" height="2.800" fill="#2a2220"/><rect x="90.800" y="185.600" width="8.400" height="2.800" fill="#2a2220"/><rect x="100" y="185.600" width="8.400" height="2.800" fill="#2a2220"/>
<rect x="90.800" y="189.200" width="17.600" height="2.600" fill="#3a1c18" stroke="#a03028" stroke-width=".4"/>
<rect x="88.800" y="193.400" width="63.400" height="3.600" fill="#f4f4f0"/>
<rect x="101.400" y="193.400" width="12.600" height="3.600" fill="#2a2c2e"/>
<g fill="#9a9a96"><rect x="88.800" y="193.400" width="63.400" height=".4"/><rect x="114" y="193.400" width=".5" height="3.600"/><rect x="126.600" y="193.400" width=".5" height="3.600"/><rect x="139.200" y="193.400" width=".5" height="3.600"/></g>
<g fill="#444"><rect x="93" y="194.800" width="4" height=".8"/><rect x="118" y="194.800" width="4" height=".8"/><rect x="131" y="194.800" width="4" height=".8"/><rect x="144" y="194.800" width="4" height=".8"/></g>
</g>

<!-- switches -->
<use href="#sw" x="225.400" y="234.900"/>
<use href="#sw" transform="translate(48.600 329.400) scale(.7063 .684)"/>
<use href="#sw" transform="translate(198.200 329.400) scale(.7044 .684)"/>
<use href="#sw" transform="translate(338.200 329.400) scale(.693 .684)"/>
<use href="#sw" transform="translate(469.100 329.400) scale(.702 .684)"/>

<!-- PLCs -->
<use href="#plc" x="101.200" y="384"/>
<use href="#plc" x="250.800" y="384"/>

<!-- comm servers -->
<use href="#cs" x="373.300" y="399.600"/>
<use href="#cs" x="503.600" y="398.400"/>

<!-- bottom row -->
<use href="#pump"/><use href="#valve"/><use href="#sensor"/>
<g transform="translate(149.600 0)"><use href="#pump"/><use href="#valve"/><use href="#sensor"/></g>
<use href="#meter"/><use href="#relay"/><use href="#bmod"/>
<g transform="translate(130.600 0)"><use href="#meter"/><use href="#relay"/><use href="#bmod"/></g>

<g fill="#222" font-size="18.600" font-family="&quot;Liberation Sans&quot;, &quot;Noto Sans CJK SC&quot;, sans-serif">
<text x="90.970" y="16.670">打印机</text>
<text x="303.060" y="16.770">电脑</text>
<text x="512.570" y="16.770">服务器</text>
<text x="406.050" y="55.870">公用网络</text>
<text x="333.040" y="156.370" textLength="72" lengthAdjust="spacingAndGlyphs">Modbus</text>
<text x="332.440" y="179.770" textLength="73.500" lengthAdjust="spacingAndGlyphs">TCP/TCP</text>
<text x="332.920" y="203.970">IP</text>
<text x="17.400" y="187.370">触摸屏</text>
<text x="231.960" y="215.270">主交换机</text>
<text x="496.970" y="236.170">光纤通讯</text>
<text x="75.850" y="313.370">子交换机1</text>
<text x="225.250" y="313.370">子交换机2</text>
<text x="365.250" y="313.370">子交换机3</text>
<text x="496.250" y="313.370">子交换机4</text>
<text x="138.720" y="427.370" textLength="42" lengthAdjust="spacingAndGlyphs">PLC1</text>
<text x="287.800" y="427.370" textLength="42.500" lengthAdjust="spacingAndGlyphs">PLC2</text>
<text x="440.470" y="417.970">通讯</text>
<text x="440.570" y="441.770">服务器</text>
<text x="573.070" y="417.770">通讯</text>
<text x="572.970" y="441.870">服务器</text>
<text><tspan x="55.700" y="612.870">泵</tspan><tspan x="55.700" y="636.770">组</tspan><tspan x="55.700" y="660.670">控</tspan><tspan x="55.700" y="684.570">制</tspan></text>
<text><tspan x="108.900" y="612.870">闸</tspan><tspan x="108.900" y="636.770">门</tspan><tspan x="108.900" y="660.670">开</tspan><tspan x="108.900" y="684.570">度</tspan><tspan x="108.900" y="708.470">测</tspan><tspan x="108.900" y="732.370">量</tspan></text>
<text><tspan x="153" y="612.870">水</tspan><tspan x="153" y="636.770">位</tspan><tspan x="153" y="660.670">传</tspan><tspan x="153" y="684.570">感</tspan><tspan x="153" y="708.470">器</tspan></text>
<text><tspan x="206" y="612.870">泵</tspan><tspan x="206" y="636.770">组</tspan><tspan x="206" y="660.670">控</tspan><tspan x="206" y="684.570">制</tspan></text>
<text><tspan x="257.700" y="612.870">闸</tspan><tspan x="257.700" y="636.770">门</tspan><tspan x="257.700" y="660.670">开</tspan><tspan x="257.700" y="684.570">度</tspan><tspan x="257.700" y="708.470">测</tspan><tspan x="257.700" y="732.370">量</tspan></text>
<text><tspan x="302" y="612.870">温</tspan><tspan x="302" y="636.770">度</tspan><tspan x="302" y="660.670">传</tspan><tspan x="302" y="684.570">感</tspan><tspan x="302" y="708.470">器</tspan></text>
<text><tspan x="351.600" y="612.870">电</tspan><tspan x="351.600" y="636.770">量</tspan><tspan x="351.600" y="660.670">采</tspan><tspan x="351.600" y="684.570">集</tspan></text>
<text><tspan x="398.200" y="612.870">微</tspan><tspan x="398.200" y="636.770">机</tspan><tspan x="398.200" y="660.670">综</tspan><tspan x="398.200" y="684.570">保</tspan></text>
<text><tspan x="443.400" y="612.870">温</tspan><tspan x="443.400" y="636.770">度</tspan><tspan x="443.400" y="660.670">巡</tspan><tspan x="443.400" y="684.570">检</tspan></text>
<text><tspan x="481.700" y="612.870">电</tspan><tspan x="481.700" y="636.770">量</tspan><tspan x="481.700" y="660.670">采</tspan><tspan x="481.700" y="684.570">集</tspan></text>
<text><tspan x="528.400" y="612.870">微</tspan><tspan x="528.400" y="636.770">机</tspan><tspan x="528.400" y="660.670">综</tspan><tspan x="528.400" y="684.570">保</tspan></text>
<text><tspan x="574" y="612.870">温</tspan><tspan x="574" y="636.770">度</tspan><tspan x="574" y="660.670">巡</tspan><tspan x="574" y="684.570">检</tspan></text>
</g>
<path d="M109.600 730h16.200l1 4h-18.400zM258.400 730h16.200l1 4h-18.400z" fill="#9d9d9d"/>
</svg>
</body></html>
